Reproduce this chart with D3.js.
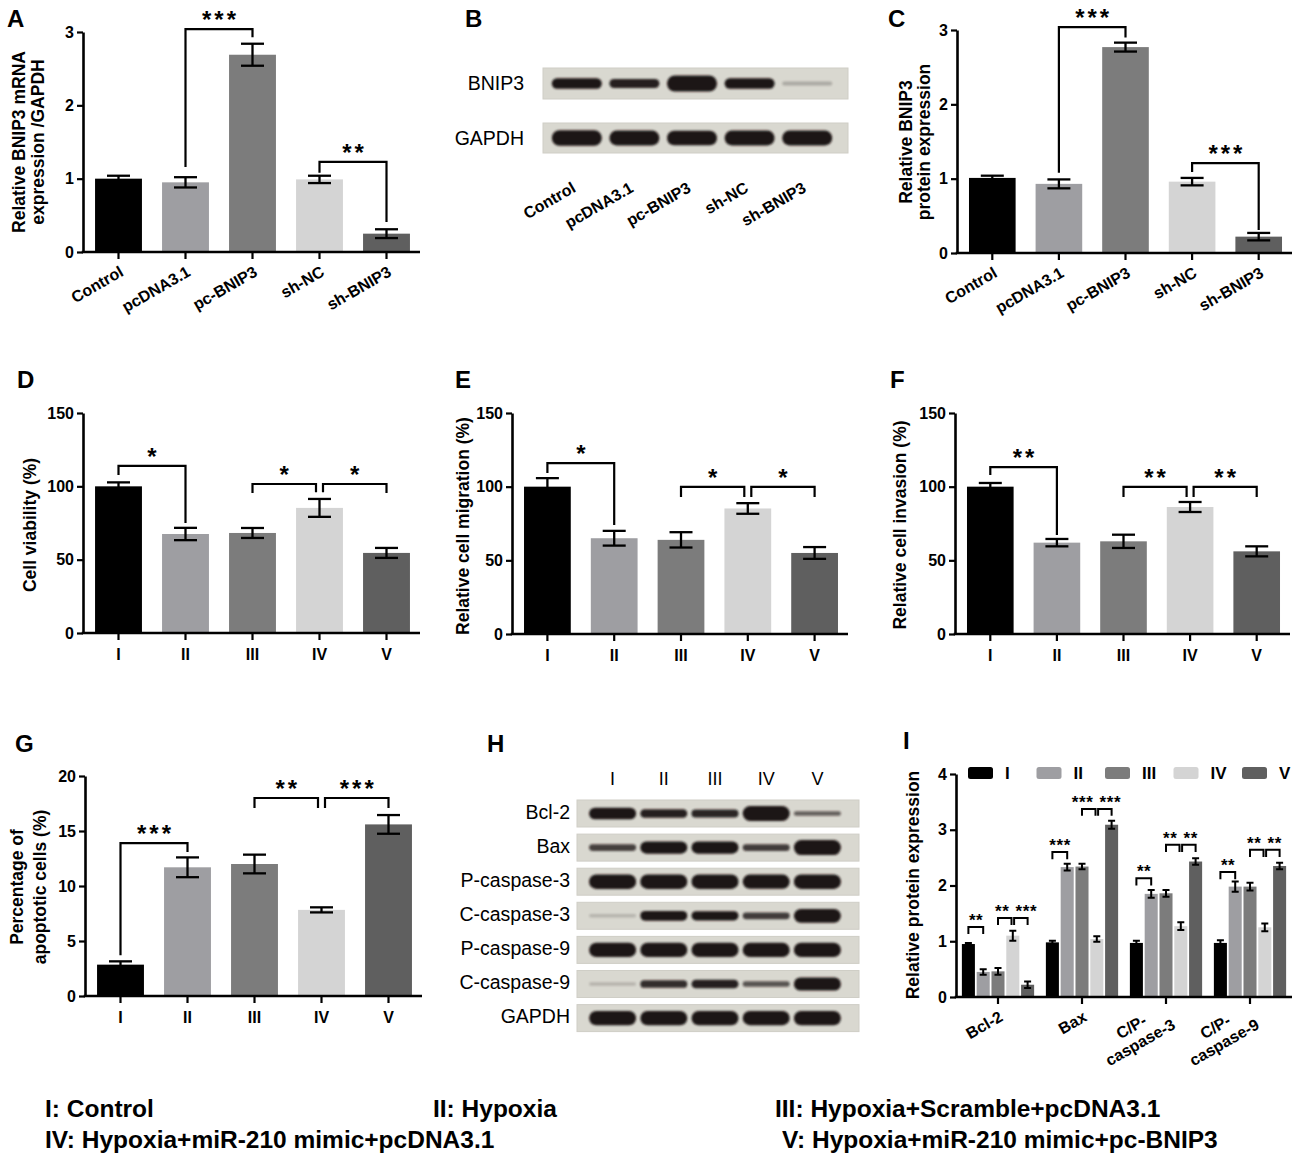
<!DOCTYPE html>
<html><head><meta charset="utf-8">
<script src="https://cdn.jsdelivr.net/npm/d3@7"></script>
<style>
body{margin:0;background:#fff;}
svg{display:block;}
</style></head><body>
<script>
// ---------------- DATA ----------------
const condAC = ["Control","pcDNA3.1","pc-BNIP3","sh-NC","sh-BNIP3"];
const groups5 = ["I","II","III","IV","V"];

const mrnaVals = [1.00, 0.95, 2.69, 0.99, 0.25];
const mrnaErr  = [0.04, 0.07, 0.15, 0.05, 0.06];
const mrnaTicks = [0,1,2,3];
// [barA, barB, bracketY, legA end, legB end, label]
const mrnaBrackets = [[1,2,3.04,1.16,2.93,"***"],[3,4,1.23,1.08,0.41,"**"]];

const protVals = [1.01, 0.93, 2.77, 0.96, 0.22];
const protErr  = [0.03, 0.06, 0.06, 0.05, 0.05];
const protTicks = [0,1,2,3];
const protBrackets = [[1,2,3.04,1.08,2.90,"***"],[3,4,1.21,1.09,0.31,"***"]];

const viabVals = [100, 67.5, 68.2, 85.3, 54.6];
const viabErr  = [2.7, 4.2, 3.4, 6.1, 3.4];
const migVals  = [100, 65.0, 63.9, 85.2, 55.0];
const migErr   = [5.8, 5.0, 5.2, 3.6, 4.0];
const invVals  = [100, 62.0, 62.9, 86.2, 56.1];
const invErr   = [2.5, 2.5, 4.5, 3.4, 3.4];
const pctTicks = [0,50,100,150];
const viabBrackets = [[0,1,113.9,107.7,75,"*"],[2,3,101.6,95.5,96,"*"],[3,4,101.6,96,95.5,"*"]];
const migBrackets  = [[0,1,116,109.3,74,"*"],[2,3,99.8,93,93,"*"],[3,4,99.8,93,93,"*"]];
const invBrackets  = [[0,1,113.3,108,67.2,"**"],[2,3,99.8,93,93,"**"],[3,4,99.8,93,93,"**"]];

const apopVals = [2.85, 11.7, 12.0, 7.83, 15.6];
const apopErr  = [0.3, 0.9, 0.85, 0.23, 0.85];
const apopTicks = [0,5,10,15,20];
const apopBrackets = [[0,1,13.9,3.7,13.1,"***"],[2,3,18.0,17.1,17.1,"**"],[3,4,18.0,17.1,17.1,"***"]];

const catsI = ["Bcl-2","Bax","C/P-\ncaspase-3","C/P-\ncaspase-9"];
const valsI = [[0.95,0.45,0.46,1.10,0.22],[0.98,2.33,2.34,1.04,3.09],[0.97,1.85,1.86,1.27,2.43],[0.97,1.98,1.98,1.25,2.35]];
const errsI = [[0.02,0.05,0.06,0.09,0.06],[0.03,0.06,0.05,0.05,0.07],[0.04,0.07,0.06,0.07,0.06],[0.05,0.09,0.07,0.07,0.06]];
const ticksI = [0,1,2,3,4];
// [category, barA, barB, bracketY, legA end, legB end, label]
const bracketsI = [
  [0,0,1,1.256,1.13,1.13,"**"],[0,2,3,1.417,1.29,1.29,"**"],[0,3,4,1.417,1.29,1.29,"***"],
  [1,0,1,2.60,2.47,2.47,"***"],[1,2,3,3.37,3.25,3.25,"***"],[1,3,4,3.37,3.25,3.25,"***"],
  [2,0,1,2.13,2.00,2.00,"**"],[2,2,3,2.73,2.60,2.60,"**"],[2,3,4,2.73,2.60,2.60,"**"],
  [3,0,1,2.24,2.11,2.11,"**"],[3,2,3,2.64,2.51,2.51,"**"],[3,3,4,2.64,2.51,2.51,"**"]
];

// western blot band intensities (0..1)
const blotB_rows = ["BNIP3","GAPDH"];
const blotB_int = [[0.55,0.45,1.0,0.55,0.04],[0.95,0.9,0.88,0.9,0.9]];
const blotH_rows = ["Bcl-2","Bax","P-caspase-3","C-caspase-3","P-caspase-9","C-caspase-9","GAPDH"];
const blotH_int = [
  [0.72,0.45,0.42,1.0,0.12],
  [0.28,0.75,0.75,0.3,1.0],
  [0.95,0.95,0.95,0.93,0.95],
  [0.02,0.55,0.5,0.3,0.9],
  [0.95,0.95,0.95,0.93,0.95],
  [0.02,0.38,0.45,0.18,0.85],
  [0.95,0.95,0.95,0.93,0.95]
];

const legendTexts = ["I: Control","II: Hypoxia","III: Hypoxia+Scramble+pcDNA3.1","IV: Hypoxia+miR-210 mimic+pcDNA3.1","V: Hypoxia+miR-210 mimic+pc-BNIP3"];

// ---------------- DRAWING ----------------
const FONT = '"Liberation Sans", Arial, Helvetica, sans-serif';
const groupColors = ["#000000","#9e9ea2","#7c7c7c","#d4d4d4","#5f5f5f"];
const fmt = d3.format("d");

const svg = d3.select('body').append('svg').attr('width',1300).attr('height',1162)
  .attr('font-family',FONT);
const defs = svg.append('defs');
defs.append('filter').attr('id','blur').attr('x','-30%').attr('y','-60%').attr('width','160%').attr('height','220%')
  .append('feGaussianBlur').attr('stdDeviation',1.3);

function panelLabel(t,x,y){
  svg.append('text').attr('x',x).attr('y',y).attr('font-size',24).attr('font-weight','bold').text(t);
}
function styleAxis(sel,fs){
  sel.attr('font-family',FONT).attr('font-size',fs||16).attr('font-weight','bold');
  sel.select('.domain').attr('stroke-width',2.6);
  sel.selectAll('.tick line').attr('stroke-width',2.2);
  sel.selectAll('.tick text').attr('fill','#000');
}
function yLabel(lines, bx, cy, gap){
  lines.forEach((l,i)=>{
    svg.append('text').attr('transform',`translate(${bx+i*gap},${cy}) rotate(-90)`)
      .attr('text-anchor','middle').attr('font-size',17.5).attr('font-weight','bold').text(l);
  });
}
// generic bracket drawer; cx(cat, bar) gives bar centre
function drawBrackets(g, list, cx, y, st){
  list.forEach((q)=>{
    const [c,a,b,yl,ya,yb,lab] = q;
    const leftN  = list.find(p=>p[0]===c && p[2]===a);   // bracket ending at a
    const rightN = list.find(p=>p[0]===c && p[1]===b);   // bracket starting at b
    const xa = cx(c,a) + (leftN? st.off:0);
    const xb = cx(c,b) - (rightN? st.off:0);
    g.append('path').attr('d',`M${xa},${y(ya)}V${y(yl)}H${xb}V${y(yb)}`)
      .attr('fill','none').attr('stroke','#000').attr('stroke-width',st.sw);
    const t = g.append('text').attr('y',y(yl)+st.dy)
      .attr('font-size',st.fs).attr('font-weight','bold').attr('letter-spacing',st.ls).text(lab);
    const w = t.node().getComputedTextLength();
    let x = (xa+xb)/2 - w/2 + st.ls/2;
    if(st.avoid){
      if(rightN && w > (xb-xa)) x = xb - 2 - w;
      if(leftN && w > (xb-xa)) x = xa + 1.5;
    }
    t.attr('x',x);
  });
}

function barPanel(o){
  const g = svg.append('g');
  const y = d3.scaleLinear().domain([0,o.yMax]).range([o.y0,o.y1]);
  const x = d3.scaleBand().domain(o.cats).range([o.ax+2,o.axEnd]).paddingInner(0.3).paddingOuter(0.15);
  const cx = i => x(o.cats[i]) + x.bandwidth()/2;
  g.selectAll('.bar').data(o.vals).join('rect').attr('class','bar')
    .attr('x',(d,i)=>x(o.cats[i])).attr('y',d=>y(d)).attr('width',x.bandwidth())
    .attr('height',d=>y(0)-y(d)).attr('fill',(d,i)=>groupColors[i]);
  const eb = g.selectAll('.err').data(o.vals).join('g').attr('class','err').attr('stroke','#000').attr('stroke-width',2.3);
  eb.append('line').attr('x1',(d,i)=>cx(i)).attr('x2',(d,i)=>cx(i))
    .attr('y1',(d,i)=>y(d+o.errs[i])).attr('y2',(d,i)=>y(d-o.errs[i]));
  [1,-1].forEach(s=>eb.append('line').attr('x1',(d,i)=>cx(i)-11.5).attr('x2',(d,i)=>cx(i)+11.5)
    .attr('y1',(d,i)=>y(d+s*o.errs[i])).attr('y2',(d,i)=>y(d+s*o.errs[i])));
  const yg = g.append('g').attr('transform',`translate(${o.ax},0)`)
    .call(d3.axisLeft(y).tickValues(o.ticks).tickFormat(fmt).tickSize(6).tickPadding(3).tickSizeOuter(0));
  styleAxis(yg);
  const xg = g.append('g').attr('transform',`translate(0,${o.y0})`)
    .call(d3.axisBottom(x).tickSize(7).tickPadding(9).tickSizeOuter(0));
  xg.select('.domain').attr('d',`M${o.ax-1.3},0H${o.axEnd}`);
  styleAxis(xg);
  if(o.rotate){
    xg.selectAll('.tick text').attr('x',0).attr('y',0).attr('dy',null).attr('text-anchor','end')
      .attr('transform','translate(6,23) rotate(-30)');
  }
  drawBrackets(g, o.brackets.map(b=>[0,...b]), (c,i)=>cx(i), y, {off:3.5, fs:24, ls:3, sw:2.2, dy:-1});
}

// A
panelLabel("A",7,27);
barPanel({cats:condAC, vals:mrnaVals, errs:mrnaErr, ticks:mrnaTicks, yMax:3, ax:83, axEnd:420, y0:252, y1:32, rotate:true, brackets:mrnaBrackets});
yLabel(["Relative BNIP3 mRNA","expression /GAPDH"],25,142,18.5);

// C
panelLabel("C",888,27);
barPanel({cats:condAC, vals:protVals, errs:protErr, ticks:protTicks, yMax:3, ax:957, axEnd:1292, y0:253, y1:30, rotate:true, brackets:protBrackets});
yLabel(["Relative BNIP3","protein expression"],912,142,18);

// D, E, F
panelLabel("D",17,388);
barPanel({cats:groups5, vals:viabVals, errs:viabErr, ticks:pctTicks, yMax:150, ax:83, axEnd:420, y0:633, y1:413, brackets:viabBrackets});
yLabel(["Cell viability (%)"],36,525,0);
panelLabel("E",455,388);
barPanel({cats:groups5, vals:migVals, errs:migErr, ticks:pctTicks, yMax:150, ax:512, axEnd:848, y0:634, y1:413, brackets:migBrackets});
yLabel(["Relative cell migration (%)"],469,526,0);
panelLabel("F",890,388);
barPanel({cats:groups5, vals:invVals, errs:invErr, ticks:pctTicks, yMax:150, ax:955, axEnd:1290, y0:634, y1:413, brackets:invBrackets});
yLabel(["Relative cell invasion (%)"],906,525,0);

// G
panelLabel("G",15,752);
barPanel({cats:groups5, vals:apopVals, errs:apopErr, ticks:apopTicks, yMax:20, ax:85, axEnd:422, y0:996, y1:776, brackets:apopBrackets});
yLabel(["Percentage of","apoptotic cells (%)"],23,887,23);

// ---------- Blots ----------
function drawBand(g, cx, cy, w, maxH, v){
  const bh = maxH*(0.22+0.78*v);
  const op = v < 0.1 ? 0.12 + v*3 : Math.min(1, 0.5 + v);
  g.append('rect').attr('x',cx-w/2).attr('y',cy-bh/2).attr('width',w).attr('height',bh)
    .attr('rx',Math.min(bh/2,10)).attr('fill','#1f1414')
    .attr('opacity',op).attr('filter','url(#blur)');
}
function blotRow(g, x0, x1, top, h, lane, ints, w, maxH){
  g.append('rect').attr('x',x0).attr('y',top).attr('width',x1-x0).attr('height',h)
    .attr('fill','#d9d8d0').attr('stroke','#cfcec6').attr('stroke-width',1);
  ints.forEach((v,i)=>drawBand(g, lane(lane.domain()[i])+lane.bandwidth()/2, top+h/2, w, maxH, v));
}

// B
panelLabel("B",465,27);
{
  const g = svg.append('g');
  const lane = d3.scaleBand().domain(condAC).range([548,836]);
  const tops = [68,123], hs = [31,30];
  blotB_rows.forEach((r,i)=>{
    blotRow(g,543,848,tops[i],hs[i],lane,blotB_int[i],50,16);
    g.append('text').attr('x',524).attr('y',tops[i]+hs[i]/2+6.5).attr('text-anchor','end')
      .attr('font-size',19.5).text(r);
  });
  const xg = g.append('g').attr('transform','translate(0,170)').call(d3.axisBottom(lane).tickSize(0).tickSizeOuter(0));
  xg.select('.domain').remove();
  styleAxis(xg);
  xg.selectAll('.tick text').attr('x',0).attr('y',0).attr('dy',null).attr('text-anchor','end')
    .attr('transform','translate(0,21) rotate(-30)');
}

// H
panelLabel("H",487,752);
{
  const g = svg.append('g');
  const lane = d3.scaleBand().domain(groups5).range([587,843]);
  blotH_rows.forEach((r,i)=>{
    const top = 800 + i*34.1;
    blotRow(g,577,859,top,27,lane,blotH_int[i],47,15);
    g.append('text').attr('x',570).attr('y',top+18.5).attr('text-anchor','end').attr('font-size',19.5).text(r);
  });
  groups5.forEach(l=>{
    g.append('text').attr('x',lane(l)+lane.bandwidth()/2).attr('y',785).attr('text-anchor','middle')
      .attr('font-size',18).text(l);
  });
}

// I
panelLabel("I",903,749);
{
  const g = svg.append('g');
  const y = d3.scaleLinear().domain([0,4]).range([997,774]);
  const x0 = d3.scaleBand().domain(catsI).range([956,1292]).paddingInner(0.14).paddingOuter(0.07);
  const x1 = d3.scaleBand().domain(groups5).range([0,x0.bandwidth()]).paddingInner(0.12);
  const bx = (c,k)=> x0(catsI[c]) + x1(groups5[k]) + x1.bandwidth()/2;
  valsI.forEach((row,c)=>{
    row.forEach((v,k)=>{
      g.append('rect').attr('x',x0(catsI[c])+x1(groups5[k])).attr('y',y(v)).attr('width',x1.bandwidth())
        .attr('height',y(0)-y(v)).attr('fill',groupColors[k]);
    });
    row.forEach((v,k)=>{
      const e = errsI[c][k], cx = bx(c,k);
      g.append('path').attr('d',`M${cx-3.5},${y(v+e)}H${cx+3.5}M${cx},${y(v+e)}V${y(v-e)}M${cx-3.5},${y(v-e)}H${cx+3.5}`)
        .attr('stroke','#000').attr('stroke-width',2).attr('fill','none');
    });
  });
  const yg = g.append('g').attr('transform','translate(956,0)')
    .call(d3.axisLeft(y).tickValues(ticksI).tickFormat(fmt).tickSize(6).tickPadding(3).tickSizeOuter(0));
  styleAxis(yg);
  const xg = g.append('g').attr('transform','translate(0,997)')
    .call(d3.axisBottom(x0).tickSize(7).tickSizeOuter(0));
  xg.select('.domain').attr('d','M954.7,0H1292');
  styleAxis(xg);
  xg.selectAll('.tick').each(function(d){
    const t = d3.select(this);
    t.select('text').remove();
    const lines = d.split('\n');
    const lg = t.append('g').attr('transform','translate(6,23) rotate(-30)');
    const txts = lines.map(l=>lg.append('text').attr('text-anchor','middle').attr('fill','#000').text(l));
    const maxW = d3.max(txts, s=>s.node().getComputedTextLength());
    txts.forEach((s,i)=>s.attr('x',-maxW/2).attr('y',(i-(lines.length-1)/2)*18));
  });
  drawBrackets(g, bracketsI, bx, y, {off:1.3, fs:17, ls:0.6, sw:2, dy:-1, avoid:true});
  yLabel(["Relative protein expression"],919,885,0);
  // legend
  const lp = d3.scalePoint().domain(groups5).range([968,1242]);
  groups5.forEach((k,i)=>{
    g.append('rect').attr('x',lp(k)).attr('y',767).attr('width',25).attr('height',12).attr('rx',2.5).attr('fill',groupColors[i]);
    g.append('text').attr('x',lp(k)+37).attr('y',779).attr('font-size',17).attr('font-weight','bold').text(k);
  });
}

// bottom legend
{
  const pos = [[45,1117],[433,1117],[775,1117],[45,1148],[782,1148]];
  legendTexts.forEach((t,i)=>{
    svg.append('text').attr('x',pos[i][0]).attr('y',pos[i][1]).attr('font-size',24.5).attr('font-weight','bold').text(t);
  });
}
</script>
</body></html>
